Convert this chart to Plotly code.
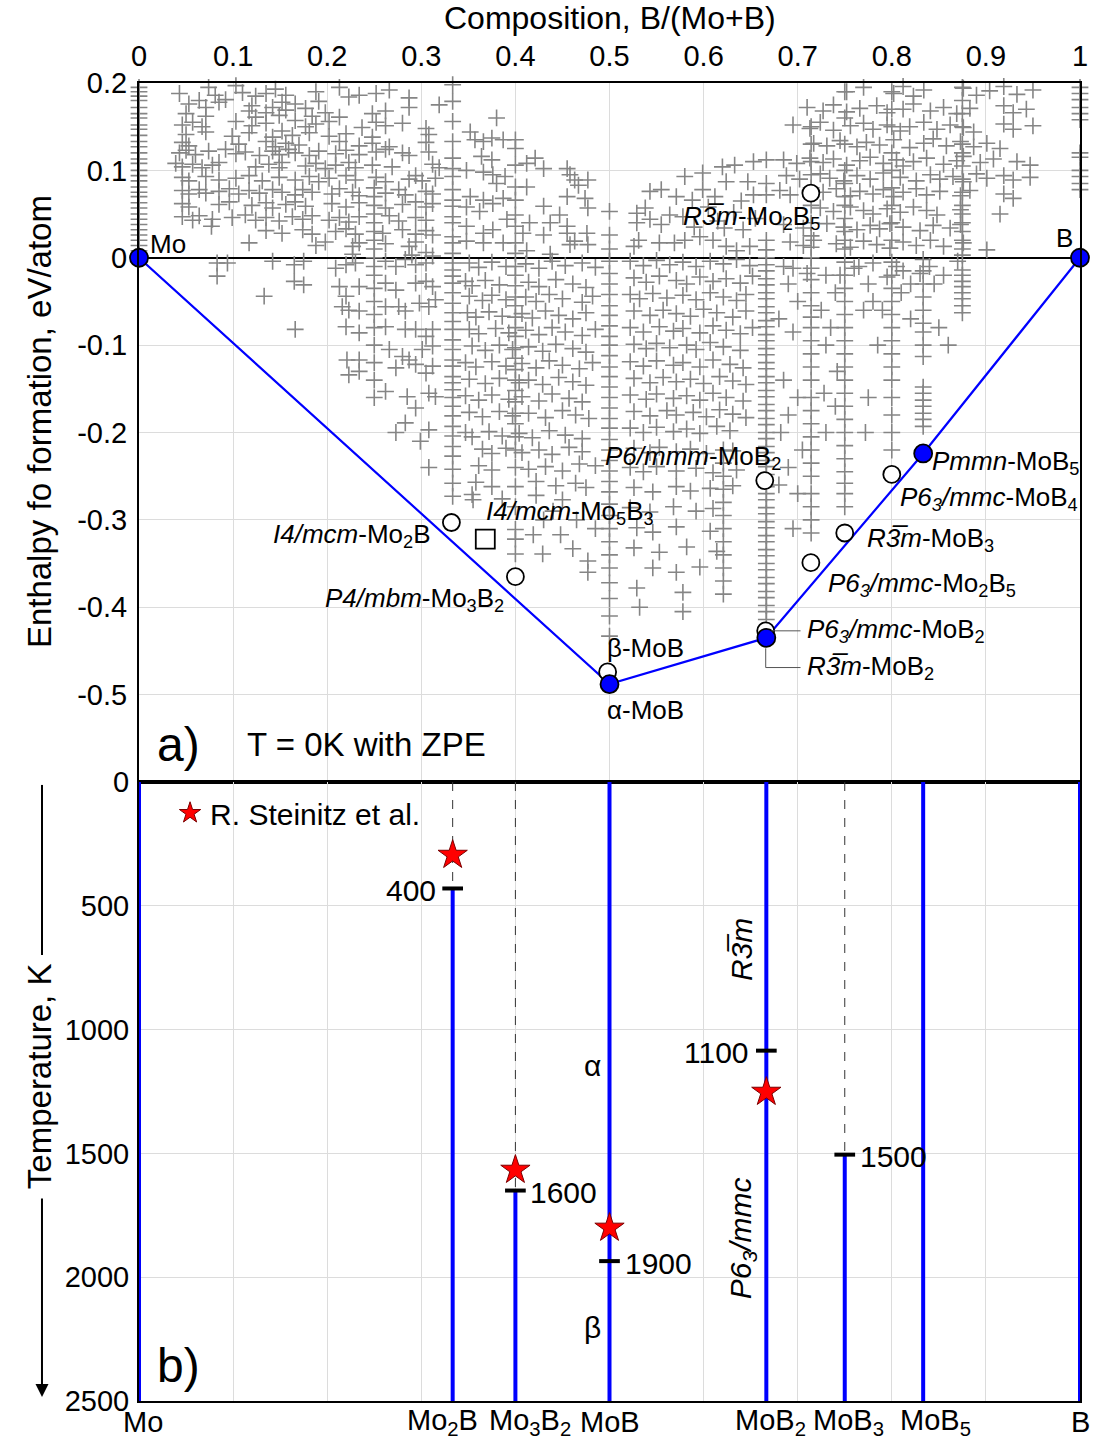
import plotly.graph_objects as go

FONT = "Arial, 'Liberation Sans', sans-serif"
GRAY = "#858585"
BLUE = "#0000ff"

# ---------------- axis ticks ----------------
comp_tickvals = [0, 0.1, 0.2, 0.3, 0.4, 0.5, 0.6, 0.7, 0.8, 0.9, 1.0]
comp_ticktext = ["0", "0.1", "0.2", "0.3", "0.4", "0.5", "0.6", "0.7", "0.8", "0.9", "1"]
enth_tickvals = [0.2, 0.1, 0, -0.1, -0.2, -0.3, -0.4, -0.5]
enth_ticktext = ["0.2", "0.1", "0", "-0.1", "-0.2", "-0.3", "-0.4", "-0.5"]
temp_tickvals = [0, 500, 1000, 1500, 2000, 2500]
temp_ticktext = ["0", "500", "1000", "1500", "2000", "2500"]

# ---------------- panel a: convex hull ----------------
hull_x = [0, 0.5, 2 / 3, 5 / 6, 1]
hull_y = [0, -0.488, -0.435, -0.224, 0]

# metastable structures (open circles)
meta_x = [0.332, 0.400, 0.498, 0.665, 0.666, 0.714, 0.750, 0.800, 0.714]
meta_y = [-0.303, -0.365, -0.474, -0.255, -0.427, -0.349, -0.315, -0.248, 0.074]
# I4/mcm-Mo5B3 (open square)
sq_x = [0.368]
sq_y = [-0.322]

# ---------------- panel a: random-search structures (grey crosses) ----------------
# vertical stacks at fixed compositions
stack_mo = [0.195, 0.19, 0.185, 0.18, 0.172, 0.165, 0.16, 0.152, 0.147, 0.14, 0.133, 0.127, 0.12,
            0.113, 0.108, 0.1, 0.094, 0.088, 0.081, 0.075, 0.07, 0.063, 0.057, 0.05, 0.044, 0.038,
            0.032, 0.026, 0.02, 0.014, 0.008]
stack_b = [0.195, 0.188, 0.181, 0.172, 0.165, 0.158, 0.12, 0.115, 0.1, 0.093, 0.085, 0.078]
stack_mo2b = [0.198, 0.179, 0.156, 0.133, 0.114, 0.102, 0.093, 0.078, 0.066, 0.059, 0.047, 0.04,
              0.024, 0.017, 0.005, -0.006, -0.014, -0.021, -0.029, -0.04, -0.052, -0.063, -0.073,
              -0.082, -0.094, -0.105, -0.117, -0.124, -0.136, -0.143, -0.151, -0.16, -0.17, -0.181,
              -0.193, -0.204, -0.216, -0.227, -0.242, -0.258, -0.273]
stack_mo3b2 = [0.135, 0.125, 0.106, 0.081, 0.066, 0.049, 0.036, 0.017, 0.005, -0.01, -0.02, -0.032,
               -0.045, -0.055, -0.068, -0.08, -0.09, -0.103, -0.115, -0.128, -0.14, -0.152, -0.165,
               -0.178, -0.19, -0.205, -0.22, -0.24, -0.262, -0.285, -0.311, -0.322, -0.339]
stack_mob = [0.053, 0.026, 0.01, -0.004, -0.018, -0.03, -0.042, -0.055, -0.066, -0.078, -0.09, -0.1,
             -0.112, -0.125, -0.136, -0.148, -0.16, -0.172, -0.184, -0.195, -0.208, -0.22, -0.232,
             -0.244, -0.256, -0.268, -0.282, -0.295, -0.31, -0.325, -0.34, -0.355, -0.372, -0.39,
             -0.41, -0.433]
stack_mob2 = [0.112, 0.085, 0.072, 0.02, 0.009, 0.0, -0.008, -0.015, -0.024, -0.031, -0.04, -0.047,
              -0.056, -0.063, -0.072, -0.079, -0.088, -0.095, -0.104, -0.111, -0.12, -0.127, -0.136,
              -0.143, -0.152, -0.159, -0.168, -0.175, -0.184, -0.191, -0.2, -0.207, -0.216, -0.223,
              -0.232, -0.239, -0.248, -0.262, -0.27, -0.277, -0.286, -0.293, -0.302, -0.309, -0.318,
              -0.325, -0.334, -0.341, -0.35, -0.357, -0.366, -0.373, -0.382, -0.389, -0.398, -0.405,
              -0.414]
stack_mo2b5 = [0.15, 0.13, 0.11, 0.095, 0.08, 0.06, 0.04, 0.025, 0.012, 0.0, -0.012, -0.025, -0.04,
               -0.055, -0.068, -0.08, -0.095, -0.11, -0.125, -0.14, -0.16, -0.175, -0.19, -0.205,
               -0.22, -0.235, -0.25, -0.27, -0.285, -0.3, -0.315]
stack_mob3 = [0.19, 0.16, 0.13, 0.1, 0.085, 0.07, 0.06, 0.045, 0.03, 0.02, 0.01, -0.005, -0.02, -0.035,
              -0.05, -0.065, -0.08, -0.095, -0.11, -0.125, -0.14, -0.155, -0.17, -0.185, -0.2,
              -0.215, -0.23, -0.245, -0.258, -0.27, -0.285]
stack_mob4 = [0.19, 0.17, 0.15, 0.12, 0.1, 0.08, 0.06, 0.04, 0.02, -0.005, -0.02, -0.035, -0.05,
              -0.065, -0.08, -0.095, -0.11, -0.125, -0.14, -0.16, -0.18, -0.2, -0.22]
stack_mob5 = [-0.002, -0.015, -0.03, -0.045, -0.06, -0.075, -0.085, -0.1, -0.113, -0.148, -0.155,
              -0.163, -0.17, -0.178, -0.185, -0.193]
stack_mob7 = [0.195, 0.18, 0.165, 0.15, 0.13, 0.12, 0.105, 0.09, 0.075, 0.06, 0.05, 0.04, 0.03, 0.02,
              0.01, 0.003, -0.014, -0.02, -0.027, -0.033, -0.04, -0.047, -0.055, -0.063]
stack_q25 = [0.08, 0.07, 0.06, 0.05, 0.04, 0.03, 0.02, 0.01, 0.0, -0.01, -0.02, -0.035, -0.05, -0.065,
             -0.08, -0.1, -0.12, -0.14, -0.16]
stack_q62 = [-0.22, -0.235, -0.25, -0.265, -0.28, -0.295, -0.31, -0.325, -0.34, -0.355, -0.37, -0.385]

stack_comp = [0, 1, 1 / 3, 0.4, 0.5, 2 / 3, 5 / 7, 0.75, 0.8, 5 / 6, 0.875, 0.25, 0.621]
stack_vals = [stack_mo, stack_b, stack_mo2b, stack_mo3b2, stack_mob, stack_mob2, stack_mo2b5,
              stack_mob3, stack_mob4, stack_mob5, stack_mob7, stack_q25, stack_q62]

# scattered structures, Mo-rich side, above the tie line at 0
pts_left_up = [
    (0.043, 0.188), (0.074, 0.195), (0.081, 0.186), (0.103, 0.197), (0.110, 0.189), (0.124, 0.185),
    (0.135, 0.188), (0.145, 0.193), (0.156, 0.186), (0.188, 0.19), (0.213, 0.195), (0.223, 0.184),
    (0.234, 0.186), (0.252, 0.188), (0.266, 0.192), (0.287, 0.183),
    (0.053, 0.176), (0.064, 0.18), (0.071, 0.172), (0.085, 0.178), (0.092, 0.181), (0.120, 0.174),
    (0.142, 0.172), (0.152, 0.178), (0.166, 0.176), (0.177, 0.171), (0.191, 0.179), (0.287, 0.172),
    (0.319, 0.175),
    (0.050, 0.165), (0.071, 0.162), (0.117, 0.168), (0.124, 0.161), (0.135, 0.166), (0.149, 0.163),
    (0.156, 0.169), (0.184, 0.162), (0.198, 0.166), (0.213, 0.161), (0.248, 0.165), (0.262, 0.168),
    (0.046, 0.152), (0.057, 0.155), (0.067, 0.15), (0.103, 0.156), (0.120, 0.151), (0.135, 0.154),
    (0.166, 0.157), (0.177, 0.15), (0.188, 0.153), (0.202, 0.156), (0.237, 0.149), (0.252, 0.155),
    (0.262, 0.151), (0.280, 0.154), (0.305, 0.148),
    (0.050, 0.141), (0.071, 0.144), (0.099, 0.139), (0.117, 0.143), (0.142, 0.138), (0.152, 0.145),
    (0.163, 0.14), (0.181, 0.143), (0.202, 0.139), (0.220, 0.142), (0.248, 0.138), (0.308, 0.141),
    (0.046, 0.132), (0.053, 0.128), (0.106, 0.13), (0.135, 0.133), (0.145, 0.127), (0.156, 0.131),
    (0.170, 0.129), (0.213, 0.133), (0.234, 0.128), (0.248, 0.131), (0.266, 0.127), (0.305, 0.132),
    (0.043, 0.12), (0.050, 0.123), (0.060, 0.118), (0.074, 0.122), (0.092, 0.124), (0.103, 0.119),
    (0.113, 0.121), (0.128, 0.117), (0.142, 0.122), (0.149, 0.118), (0.159, 0.124), (0.166, 0.12),
    (0.181, 0.117), (0.191, 0.122), (0.209, 0.119), (0.220, 0.123), (0.234, 0.118), (0.252, 0.121),
    (0.262, 0.124), (0.280, 0.12), (0.287, 0.117), (0.308, 0.121),
    (0.039, 0.108), (0.046, 0.104), (0.057, 0.107), (0.067, 0.103), (0.078, 0.106), (0.085, 0.109),
    (0.124, 0.104), (0.138, 0.107), (0.149, 0.103), (0.152, 0.109), (0.177, 0.105), (0.188, 0.108),
    (0.198, 0.102), (0.209, 0.106), (0.223, 0.109), (0.230, 0.103), (0.248, 0.106), (0.269, 0.104),
    (0.312, 0.107), (0.319, 0.103),
    (0.046, 0.092), (0.053, 0.088), (0.071, 0.093), (0.085, 0.089), (0.103, 0.091), (0.117, 0.094),
    (0.131, 0.088), (0.149, 0.092), (0.166, 0.089), (0.181, 0.093), (0.191, 0.087), (0.202, 0.091),
    (0.220, 0.094), (0.230, 0.089), (0.252, 0.092), (0.262, 0.087), (0.287, 0.09), (0.294, 0.094),
    (0.301, 0.088), (0.315, 0.091),
    (0.046, 0.077), (0.053, 0.073), (0.064, 0.078), (0.071, 0.074), (0.085, 0.076), (0.096, 0.079),
    (0.106, 0.073), (0.117, 0.077), (0.128, 0.074), (0.142, 0.078), (0.152, 0.075), (0.166, 0.072),
    (0.174, 0.078), (0.184, 0.075), (0.205, 0.073), (0.213, 0.079), (0.227, 0.075), (0.234, 0.071),
    (0.262, 0.074), (0.276, 0.078), (0.283, 0.072), (0.305, 0.076), (0.312, 0.073),
    (0.046, 0.062), (0.053, 0.058), (0.085, 0.061), (0.096, 0.064), (0.120, 0.06), (0.135, 0.063),
    (0.142, 0.057), (0.156, 0.061), (0.166, 0.064), (0.177, 0.059), (0.205, 0.062), (0.220, 0.058),
    (0.234, 0.063), (0.262, 0.057), (0.280, 0.061), (0.294, 0.064), (0.305, 0.058), (0.312, 0.062),
    (0.046, 0.047), (0.057, 0.043), (0.064, 0.048), (0.078, 0.044), (0.099, 0.046), (0.113, 0.049),
    (0.124, 0.043), (0.135, 0.046), (0.149, 0.042), (0.163, 0.047), (0.174, 0.044), (0.184, 0.048),
    (0.202, 0.043), (0.213, 0.046), (0.223, 0.041), (0.234, 0.047), (0.266, 0.048), (0.276, 0.042),
    (0.294, 0.046), (0.305, 0.043),
    (0.077, 0.036), (0.135, 0.031), (0.152, 0.028), (0.174, 0.032), (0.184, 0.027), (0.209, 0.03),
    (0.220, 0.033), (0.230, 0.027), (0.259, 0.028), (0.280, 0.032), (0.294, 0.027), (0.305, 0.031),
    (0.312, 0.026),
    (0.117, 0.017), (0.188, 0.014), (0.198, 0.018), (0.227, 0.013), (0.234, 0.017), (0.262, 0.016),
    (0.287, 0.013), (0.294, 0.018), (0.227, 0.004), (0.290, 0.003), (0.305, 0.006),
]

# scattered structures, middle compositions above 0
pts_mid_up = [
    (0.380, 0.160), (0.352, 0.144), (0.357, 0.135), (0.366, 0.133), (0.375, 0.137), (0.387, 0.135),
    (0.412, 0.108), (0.364, 0.116), (0.375, 0.112), (0.421, 0.114), (0.430, 0.102), (0.455, 0.102),
    (0.348, 0.100), (0.366, 0.098), (0.376, 0.095), (0.389, 0.093), (0.458, 0.095), (0.463, 0.089),
    (0.477, 0.089), (0.412, 0.081), (0.380, 0.085), (0.467, 0.083), (0.352, 0.070), (0.366, 0.066),
    (0.376, 0.062), (0.387, 0.068), (0.430, 0.059), (0.455, 0.070), (0.474, 0.068), (0.477, 0.057),
    (0.447, 0.049), (0.348, 0.058), (0.362, 0.053), (0.391, 0.044), (0.415, 0.040), (0.437, 0.040),
    (0.455, 0.036), (0.348, 0.036), (0.366, 0.028), (0.376, 0.032), (0.408, 0.028), (0.430, 0.026),
    (0.455, 0.028), (0.463, 0.019), (0.476, 0.028), (0.348, 0.019), (0.366, 0.017), (0.387, 0.017),
    (0.412, 0.008), (0.437, 0.004), (0.458, 0.015), (0.477, 0.015),
    (0.580, 0.093), (0.599, 0.097), (0.620, 0.104), (0.633, 0.106), (0.653, 0.110), (0.543, 0.076),
    (0.555, 0.078), (0.571, 0.070), (0.599, 0.078), (0.624, 0.087), (0.647, 0.087), (0.653, 0.072),
    (0.538, 0.057), (0.529, 0.051), (0.529, 0.040), (0.543, 0.044), (0.555, 0.038), (0.564, 0.049),
    (0.578, 0.047), (0.531, 0.020), (0.526, 0.013), (0.553, 0.017), (0.569, 0.017), (0.580, 0.020),
    (0.596, 0.024), (0.610, 0.020), (0.624, 0.013), (0.635, 0.008), (0.649, 0.013),
    (0.605, 0.058), (0.615, 0.042), (0.632, 0.052), (0.642, 0.032), (0.622, 0.034), (0.588, 0.066),
    (0.590, 0.035), (0.612, 0.070), (0.640, 0.065), (0.655, 0.045),
]

# scattered structures, B-rich side above 0
pts_right_up = [
    (0.752, 0.19), (0.770, 0.195), (0.802, 0.188), (0.812, 0.196), (0.823, 0.185), (0.834, 0.192),
    (0.876, 0.194), (0.890, 0.186), (0.904, 0.191), (0.919, 0.196), (0.933, 0.187), (0.950, 0.192),
    (0.710, 0.172), (0.727, 0.168), (0.738, 0.175), (0.752, 0.167), (0.766, 0.171), (0.784, 0.174),
    (0.795, 0.166), (0.812, 0.17), (0.823, 0.176), (0.841, 0.168), (0.855, 0.172), (0.869, 0.165),
    (0.883, 0.171), (0.919, 0.174), (0.929, 0.166), (0.943, 0.17),
    (0.695, 0.152), (0.713, 0.148), (0.724, 0.155), (0.738, 0.146), (0.756, 0.151), (0.770, 0.154),
    (0.780, 0.147), (0.795, 0.152), (0.809, 0.145), (0.819, 0.15), (0.834, 0.155), (0.848, 0.147),
    (0.862, 0.152), (0.876, 0.149), (0.887, 0.144), (0.919, 0.153), (0.929, 0.147), (0.950, 0.151),
    (0.717, 0.131), (0.731, 0.128), (0.745, 0.134), (0.763, 0.127), (0.773, 0.132), (0.787, 0.129),
    (0.802, 0.135), (0.819, 0.126), (0.834, 0.131), (0.844, 0.136), (0.858, 0.128), (0.873, 0.133),
    (0.887, 0.127), (0.901, 0.131), (0.915, 0.125),
    (0.685, 0.112), (0.699, 0.108), (0.713, 0.114), (0.727, 0.109), (0.738, 0.113), (0.752, 0.106),
    (0.766, 0.111), (0.777, 0.115), (0.791, 0.108), (0.805, 0.112), (0.812, 0.105), (0.823, 0.11),
    (0.837, 0.114), (0.855, 0.107), (0.869, 0.111), (0.876, 0.116), (0.894, 0.109), (0.908, 0.113),
    (0.933, 0.11), (0.947, 0.106),
    (0.688, 0.094), (0.702, 0.09), (0.724, 0.096), (0.734, 0.091), (0.749, 0.088), (0.763, 0.094),
    (0.777, 0.09), (0.791, 0.097), (0.809, 0.092), (0.826, 0.088), (0.841, 0.095), (0.851, 0.09),
    (0.865, 0.093), (0.876, 0.087), (0.890, 0.096), (0.901, 0.091), (0.919, 0.094), (0.929, 0.089),
    (0.947, 0.092),
    (0.681, 0.077), (0.692, 0.072), (0.727, 0.075), (0.741, 0.079), (0.756, 0.071), (0.766, 0.076),
    (0.780, 0.073), (0.791, 0.078), (0.802, 0.07), (0.812, 0.075), (0.826, 0.079), (0.837, 0.072),
    (0.851, 0.076), (0.873, 0.071), (0.883, 0.077), (0.919, 0.073), (0.929, 0.068),
    (0.724, 0.057), (0.738, 0.053), (0.756, 0.058), (0.770, 0.054), (0.780, 0.05), (0.795, 0.056),
    (0.809, 0.052), (0.823, 0.058), (0.837, 0.054), (0.848, 0.049), (0.873, 0.055), (0.915, 0.05),
    (0.685, 0.038), (0.706, 0.034), (0.731, 0.039), (0.749, 0.035), (0.763, 0.032), (0.777, 0.037),
    (0.787, 0.033), (0.798, 0.039), (0.812, 0.035), (0.830, 0.031), (0.844, 0.037), (0.862, 0.034),
    (0.873, 0.038),
    (0.692, 0.018), (0.706, 0.014), (0.717, 0.02), (0.741, 0.016), (0.756, 0.012), (0.770, 0.019),
    (0.784, 0.015), (0.798, 0.011), (0.812, 0.018), (0.826, 0.014), (0.841, 0.02), (0.855, 0.013),
    (0.876, 0.017), (0.901, 0.009),
]

# scattered structures, Mo-rich side below 0
pts_left_low = [
    (0.083, -0.006), (0.094, -0.006), (0.083, -0.021), (0.142, -0.004), (0.165, -0.008),
    (0.175, -0.004), (0.165, -0.027), (0.175, -0.031), (0.133, -0.044), (0.166, -0.082),
    (0.209, -0.012), (0.220, -0.008), (0.230, -0.006), (0.262, -0.004), (0.273, -0.010),
    (0.283, -0.002), (0.294, -0.008), (0.305, -0.006), (0.312, 0.002),
    (0.213, -0.033), (0.220, -0.044), (0.234, -0.033), (0.262, -0.029), (0.273, -0.037),
    (0.294, -0.029), (0.305, -0.027), (0.312, -0.033),
    (0.216, -0.056), (0.223, -0.06), (0.234, -0.061), (0.262, -0.056), (0.276, -0.056),
    (0.283, -0.061), (0.298, -0.052), (0.308, -0.056), (0.315, -0.048),
    (0.220, -0.079), (0.234, -0.086), (0.262, -0.079), (0.283, -0.082), (0.294, -0.082),
    (0.305, -0.09), (0.312, -0.082),
    (0.266, -0.105), (0.280, -0.113), (0.287, -0.117), (0.301, -0.105), (0.312, -0.101),
    (0.221, -0.117), (0.234, -0.117), (0.223, -0.134), (0.234, -0.130), (0.273, -0.126),
    (0.294, -0.122), (0.305, -0.132), (0.312, -0.124),
    (0.262, -0.153), (0.285, -0.159), (0.294, -0.172), (0.308, -0.155), (0.315, -0.159),
    (0.273, -0.2), (0.283, -0.189), (0.299, -0.21), (0.308, -0.197), (0.308, -0.24),
]

# scattered structures between Mo2B and MoB below 0
pts_mid_low = [
    (0.351, -0.006), (0.361, -0.011), (0.375, -0.005), (0.390, -0.01), (0.411, -0.007),
    (0.425, -0.012), (0.439, -0.004), (0.453, -0.009), (0.471, -0.006), (0.485, -0.011),
    (0.347, -0.027), (0.354, -0.032), (0.368, -0.026), (0.383, -0.031), (0.414, -0.028),
    (0.425, -0.033), (0.443, -0.025), (0.461, -0.03), (0.475, -0.034),
    (0.351, -0.044), (0.365, -0.049), (0.375, -0.043), (0.390, -0.048), (0.411, -0.045),
    (0.422, -0.05), (0.436, -0.042), (0.450, -0.047), (0.471, -0.051), (0.482, -0.044),
    (0.349, -0.063), (0.358, -0.068), (0.372, -0.062), (0.386, -0.067), (0.407, -0.064),
    (0.418, -0.069), (0.432, -0.061), (0.446, -0.066), (0.461, -0.07), (0.475, -0.063),
    (0.351, -0.082), (0.361, -0.087), (0.379, -0.081), (0.393, -0.086), (0.411, -0.083),
    (0.425, -0.088), (0.439, -0.08), (0.453, -0.085), (0.471, -0.089), (0.485, -0.082),
    (0.354, -0.101), (0.368, -0.106), (0.383, -0.1), (0.397, -0.105), (0.414, -0.102),
    (0.429, -0.107), (0.443, -0.099), (0.461, -0.104), (0.475, -0.108),
    (0.347, -0.12), (0.358, -0.125), (0.375, -0.119), (0.390, -0.124), (0.407, -0.121),
    (0.422, -0.126), (0.436, -0.118), (0.450, -0.123), (0.468, -0.127), (0.482, -0.12),
    (0.351, -0.139), (0.368, -0.144), (0.383, -0.138), (0.404, -0.143), (0.414, -0.14),
    (0.429, -0.145), (0.446, -0.137), (0.461, -0.142), (0.475, -0.146),
    (0.347, -0.158), (0.361, -0.163), (0.375, -0.157), (0.393, -0.162), (0.407, -0.159),
    (0.425, -0.164), (0.439, -0.156), (0.457, -0.161), (0.471, -0.165),
    (0.351, -0.177), (0.365, -0.182), (0.383, -0.176), (0.397, -0.181), (0.414, -0.178),
    (0.432, -0.183), (0.450, -0.175), (0.464, -0.18), (0.478, -0.184),
    (0.347, -0.2), (0.354, -0.205), (0.372, -0.199), (0.386, -0.204), (0.404, -0.201),
    (0.418, -0.206), (0.436, -0.198), (0.453, -0.203), (0.471, -0.207),
    (0.365, -0.219), (0.375, -0.224), (0.390, -0.218), (0.407, -0.223), (0.425, -0.22),
    (0.439, -0.225), (0.457, -0.217), (0.471, -0.222),
    (0.361, -0.238), (0.375, -0.243), (0.414, -0.242), (0.432, -0.239), (0.450, -0.244),
    (0.468, -0.236), (0.358, -0.257), (0.375, -0.262), (0.422, -0.256), (0.443, -0.261),
    (0.464, -0.258), (0.475, -0.263), (0.354, -0.271), (0.386, -0.276), (0.422, -0.272),
    (0.450, -0.277), (0.355, -0.277), (0.419, -0.317), (0.429, -0.339), (0.448, -0.317),
    (0.461, -0.333), (0.477, -0.347), (0.477, -0.36), (0.485, -0.238), (0.440, -0.29),
    (0.465, -0.3), (0.485, -0.31), (0.430, -0.3),
]

# scattered structures between MoB and MoB2 below 0
pts_center_low = [
    (0.522, -0.004), (0.536, -0.009), (0.550, -0.003), (0.564, -0.008), (0.578, -0.005),
    (0.592, -0.01), (0.607, -0.004), (0.621, -0.007), (0.635, -0.002), (0.649, -0.009),
    (0.526, -0.023), (0.539, -0.028), (0.553, -0.021), (0.571, -0.026), (0.582, -0.03),
    (0.596, -0.022), (0.610, -0.027), (0.624, -0.024), (0.639, -0.029), (0.652, -0.021),
    (0.522, -0.042), (0.532, -0.047), (0.546, -0.041), (0.561, -0.046), (0.578, -0.043),
    (0.592, -0.048), (0.607, -0.04), (0.621, -0.045), (0.635, -0.049), (0.645, -0.042),
    (0.526, -0.061), (0.543, -0.066), (0.557, -0.06), (0.571, -0.064), (0.586, -0.067),
    (0.600, -0.059), (0.614, -0.063), (0.631, -0.068), (0.645, -0.061),
    (0.522, -0.08), (0.536, -0.085), (0.553, -0.079), (0.568, -0.084), (0.578, -0.081),
    (0.596, -0.086), (0.610, -0.078), (0.624, -0.083), (0.639, -0.087), (0.652, -0.08),
    (0.526, -0.099), (0.539, -0.104), (0.550, -0.098), (0.564, -0.103), (0.582, -0.1),
    (0.592, -0.105), (0.607, -0.097), (0.621, -0.102), (0.639, -0.106),
    (0.522, -0.119), (0.536, -0.124), (0.550, -0.118), (0.568, -0.123), (0.578, -0.12),
    (0.596, -0.125), (0.610, -0.117), (0.628, -0.122), (0.642, -0.126),
    (0.526, -0.138), (0.543, -0.143), (0.557, -0.137), (0.571, -0.142), (0.586, -0.139),
    (0.600, -0.144), (0.617, -0.136), (0.631, -0.141), (0.645, -0.145),
    (0.522, -0.157), (0.539, -0.162), (0.550, -0.156), (0.568, -0.161), (0.582, -0.158),
    (0.596, -0.163), (0.610, -0.155), (0.624, -0.16), (0.642, -0.164),
    (0.526, -0.176), (0.543, -0.181), (0.561, -0.175), (0.571, -0.18), (0.589, -0.177),
    (0.603, -0.182), (0.617, -0.174), (0.631, -0.179), (0.645, -0.183),
    (0.522, -0.195), (0.536, -0.2), (0.550, -0.194), (0.568, -0.199), (0.582, -0.196),
    (0.596, -0.201), (0.614, -0.193), (0.628, -0.198),
    (0.526, -0.218), (0.543, -0.223), (0.553, -0.217), (0.571, -0.222), (0.586, -0.219),
    (0.603, -0.224), (0.631, -0.221),
    (0.522, -0.24), (0.536, -0.245), (0.550, -0.239), (0.571, -0.244), (0.592, -0.241),
    (0.610, -0.246), (0.635, -0.243),
    (0.526, -0.263), (0.546, -0.268), (0.571, -0.262), (0.586, -0.267), (0.607, -0.264),
    (0.631, -0.261), (0.522, -0.286), (0.543, -0.291), (0.568, -0.285), (0.592, -0.29),
    (0.610, -0.287), (0.529, -0.309), (0.546, -0.314), (0.571, -0.308), (0.607, -0.313),
    (0.526, -0.332), (0.553, -0.337), (0.582, -0.331), (0.614, -0.336),
    (0.546, -0.355), (0.571, -0.36), (0.596, -0.354), (0.529, -0.378), (0.578, -0.383),
    (0.532, -0.4), (0.578, -0.405),
]

# scattered structures on the B-rich side below 0
pts_right_low = [
    (0.685, -0.01), (0.690, -0.03), (0.700, -0.05), (0.680, -0.07), (0.695, -0.085),
    (0.685, -0.14), (0.700, -0.16), (0.690, -0.18), (0.682, -0.2), (0.705, -0.22),
    (0.690, -0.24), (0.680, -0.26), (0.700, -0.27), (0.695, -0.31), (0.730, -0.02),
    (0.740, -0.04), (0.725, -0.06), (0.735, -0.08), (0.730, -0.1), (0.742, -0.13),
    (0.728, -0.155), (0.740, -0.17), (0.730, -0.2), (0.765, -0.01), (0.775, -0.03),
    (0.780, -0.05), (0.770, -0.06), (0.785, -0.1), (0.775, -0.16), (0.772, -0.2),
    (0.790, -0.06), (0.810, -0.04), (0.820, -0.03), (0.812, -0.015), (0.840, -0.01),
    (0.845, -0.03), (0.850, -0.08), (0.860, -0.1), (0.820, -0.07), (0.855, -0.02),
    (0.695, -0.012), (0.710, -0.018), (0.745, -0.02), (0.760, -0.012), (0.780, -0.006),
    (0.795, -0.022), (0.805, -0.01), (0.830, -0.018), (0.870, -0.004),
]

# ---------------- panel b: stability vs temperature ----------------
phase_x = [0, 1 / 3, 0.4, 0.5, 2 / 3, 0.75, 5 / 6, 1]
phase_names = ["Mo", "Mo<sub>2</sub>B", "Mo<sub>3</sub>B<sub>2</sub>", "MoB", "MoB<sub>2</sub>",
               "MoB<sub>3</sub>", "MoB<sub>5</sub>", "B"]
phase_T_from = [0, 430, 1650, 0, 0, 1505, 0, 0]   # temperature from which the phase is stable

trans_x = [1 / 3, 0.4, 0.5, 2 / 3, 0.75]
trans_T = [430, 1650, 1935, 1085, 1505]
trans_lbl = ["400", "1600", "1900", "1100", "1500"]

steinitz_x = [1 / 3, 0.4, 0.5, 2 / 3]
steinitz_T = [295, 1567, 1801, 1252]

T_MAX = 2500

# ====================================================================
fig = go.Figure()

# grey crosses
sx, sy = [], []
for c, vals in zip(stack_comp, stack_vals):
    sx += [c] * len(vals)
    sy += vals
for group in (pts_left_up, pts_mid_up, pts_right_up, pts_left_low, pts_mid_low,
              pts_center_low, pts_right_low):
    sx += [p[0] for p in group]
    sy += [p[1] for p in group]

fig.add_trace(go.Scatter(
    x=sx, y=sy, mode="markers", xaxis="x", yaxis="y", hoverinfo="skip", showlegend=False,
    cliponaxis=False,
    marker=dict(symbol="cross-thin", size=12, color=GRAY, line=dict(width=1.6, color=GRAY))))

# convex hull line
fig.add_trace(go.Scatter(x=hull_x, y=hull_y, mode="lines", xaxis="x", yaxis="y",
                         line=dict(color=BLUE, width=2.2), hoverinfo="skip", showlegend=False))

# metastable structures
fig.add_trace(go.Scatter(
    x=meta_x, y=meta_y, mode="markers", xaxis="x", yaxis="y", showlegend=False, cliponaxis=False,
    marker=dict(symbol="circle", size=17, color="white", line=dict(width=1.8, color="black"))))
fig.add_trace(go.Scatter(
    x=sq_x, y=sq_y, mode="markers", xaxis="x", yaxis="y", showlegend=False,
    marker=dict(symbol="square", size=19, color="white", line=dict(width=1.8, color="black"))))

# stable structures
fig.add_trace(go.Scatter(
    x=hull_x, y=hull_y, mode="markers", xaxis="x", yaxis="y", showlegend=False, cliponaxis=False,
    marker=dict(symbol="circle", size=18, color=BLUE, line=dict(width=1.8, color="black"))))

# panel b: dashed (metastable range) and solid (stable range) lines
dx, dy, bx, by = [], [], [], []
for x, t0 in zip(phase_x, phase_T_from):
    bx += [x, x, None]
    by += [t0, T_MAX, None]
    if t0 > 0:
        dx += [x, x, None]
        dy += [0, t0, None]
fig.add_trace(go.Scatter(x=dx, y=dy, mode="lines", xaxis="x2", yaxis="y2", showlegend=False,
                         line=dict(color="#333333", width=1, dash="dash"), hoverinfo="skip"))
fig.add_trace(go.Scatter(x=bx, y=by, mode="lines", xaxis="x2", yaxis="y2", showlegend=False,
                         line=dict(color=BLUE, width=4), hoverinfo="skip"))

# transition tick marks
tx, ty = [], []
for x, t in zip(trans_x, trans_T):
    tx += [x - 0.011, x + 0.011, None]
    ty += [t, t, None]
fig.add_trace(go.Scatter(x=tx, y=ty, mode="lines", xaxis="x2", yaxis="y2", showlegend=False,
                         line=dict(color="black", width=4), hoverinfo="skip"))

# experimental data
fig.add_trace(go.Scatter(
    x=steinitz_x, y=steinitz_T, mode="markers", xaxis="x2", yaxis="y2",
    name="R. Steinitz et al.", showlegend=True, cliponaxis=False,
    marker=dict(symbol="star", size=22, color="#ff0000", line=dict(width=1, color="#7a0000"))))

# ---------------- annotations ----------------
ann = []
top_labels = [
    ("Mo", 0.0096, 0.016, "left"),
    ("B", 0.995, 0.023, "right"),
    ("<i>R3\u0305m</i>-Mo<sub>2</sub>B<sub>5</sub>", 0.726, 0.046, "right"),
    ("<i>P6/mmm</i>-MoB<sub>2</sub>", 0.493, -0.229, "left"),
    ("<i>I4/mcm</i>-Mo<sub>5</sub>B<sub>3</sub>", 0.367, -0.291, "left"),
    ("<i>I4/mcm</i>-Mo<sub>2</sub>B", 0.311, -0.318, "right"),
    ("<i>P4/mbm</i>-Mo<sub>3</sub>B<sub>2</sub>", 0.390, -0.391, "right"),
    ("\u03b2-MoB", 0.495, -0.447, "left"),
    ("\u03b1-MoB", 0.495, -0.518, "left"),
    ("<i>Pmmn</i>-MoB<sub>5</sub>", 0.841, -0.234, "left"),
    ("<i>P6<sub>3</sub>/mmc</i>-MoB<sub>4</sub>", 0.807, -0.275, "left"),
    ("<i>R3\u0305m</i>-MoB<sub>3</sub>", 0.772, -0.322, "left"),
    ("<i>P6<sub>3</sub>/mmc</i>-Mo<sub>2</sub>B<sub>5</sub>", 0.730, -0.374, "left"),
    ("<i>P6<sub>3</sub>/mmc</i>-MoB<sub>2</sub>", 0.708, -0.427, "left"),
    ("<i>R3\u0305m</i>-MoB<sub>2</sub>", 0.708, -0.469, "left"),
]
for txt, x, y, anc in top_labels:
    ann.append(dict(text=txt, x=x, y=y, xref="x", yref="y", xanchor=anc, yanchor="middle",
                    showarrow=False, font=dict(size=26, color="black", family=FONT)))

ann.append(dict(text="a)", x=0.017, y=-0.557, xref="x", yref="y", xanchor="left",
                yanchor="middle", showarrow=False, font=dict(size=48, family=FONT, color="black")))
ann.append(dict(text="T = 0K with ZPE", x=0.113, y=-0.557, xref="x", yref="y", xanchor="left",
                yanchor="middle", showarrow=False, font=dict(size=33, family=FONT, color="black")))
ann.append(dict(text="b)", x=0.017, y=2355, xref="x2", yref="y2", xanchor="left",
                yanchor="middle", showarrow=False, font=dict(size=48, family=FONT, color="black")))

# transition labels
for x, t, lbl, side in zip(trans_x, trans_T, trans_lbl, ["right", "left", "left", "right", "left"]):
    ann.append(dict(text=lbl, x=x, y=t, xref="x2", yref="y2",
                    xanchor="right" if side == "right" else "left",
                    xshift=-15 if side == "right" else 13, yshift=-2, yanchor="middle",
                    showarrow=False, font=dict(size=30, family=FONT, color="black")))

ann.append(dict(text="\u03b1", x=0.482, y=1143, xref="x2", yref="y2", showarrow=False,
                xanchor="center", yanchor="middle", font=dict(size=30, family=FONT, color="black")))
ann.append(dict(text="\u03b2", x=0.482, y=2205, xref="x2", yref="y2", showarrow=False,
                xanchor="center", yanchor="middle", font=dict(size=30, family=FONT, color="black")))
ann.append(dict(text="<i>R3\u0305m</i>", x=0.641, y=678, xref="x2", yref="y2", showarrow=False,
                xanchor="center", yanchor="middle", textangle=-90,
                font=dict(size=30, family=FONT, color="black")))
ann.append(dict(text="<i>P6<sub>3</sub>/mmc</i>", x=0.641, y=1842, xref="x2", yref="y2",
                xanchor="center", yanchor="middle", showarrow=False, textangle=-90,
                font=dict(size=30, family=FONT, color="black")))

# bottom composition labels
for x, name, xs in zip(phase_x, phase_names, [4, -10, 15, 0, 4, 4, 12, 0]):
    ann.append(dict(text=name, x=x, y=0.0125, xref="x2", yref="paper", xshift=xs,
                    xanchor="center", yanchor="middle", showarrow=False,
                    font=dict(size=29, family=FONT, color="black")))

# axis titles
ann.append(dict(text="Composition, B/(Mo+B)", x=0.5, y=0.9872, xref="paper", yref="paper",
                xanchor="center", yanchor="middle", showarrow=False,
                font=dict(size=32, family=FONT, color="black")))
ann.append(dict(text="Enthalpy fo formation, eV/atom", x=-0.105, y=0.707, xref="paper",
                yref="paper", xanchor="center", yanchor="middle", showarrow=False, textangle=-90,
                font=dict(size=33, family=FONT, color="black")))
ann.append(dict(text="Temperature, K", x=-0.105, y=0.2528, xref="paper", yref="paper",
                xanchor="center", yanchor="middle", showarrow=False, textangle=-90,
                font=dict(size=33, family=FONT, color="black")))
# arrow below the temperature title
ann.append(dict(text="", x=-0.1031, y=0.0299, xref="paper", yref="paper", showarrow=True,
                ax=0, ay=-200, arrowhead=2, arrowsize=1.3, arrowwidth=2, arrowcolor="black"))

shapes = [
    dict(type="line", xref="paper", yref="paper", x0=-0.1031, x1=-0.1031, y0=0.4549, y1=0.3368,
         line=dict(color="black", width=2)),
    # leader lines for the MoB2 polymorph labels
    dict(type="line", xref="x", yref="y", x0=0.672, x1=0.703, y0=-0.427, y1=-0.427,
         line=dict(color="#555555", width=1)),
    dict(type="path", xref="x", yref="y", path="M 0.666,-0.447 L 0.666,-0.469 L 0.703,-0.469",
         line=dict(color="#555555", width=1)),
]

dom_top = [(1440 - 782) / 1440, (1440 - 83) / 1440]
dom_bot = [(1440 - 1401) / 1440, (1440 - 782) / 1440]
tickfont = dict(size=29, family=FONT, color="black")

fig.update_layout(
    width=1093, height=1440,
    margin=dict(l=139, r=13, t=0, b=0, autoexpand=False),
    paper_bgcolor="white", plot_bgcolor="white",
    font=dict(family=FONT, color="black"),
    xaxis=dict(domain=[0, 1], range=[0, 1], anchor="y", side="top", automargin=False,
               tickvals=comp_tickvals, ticktext=comp_ticktext, tickfont=tickfont,
               ticks="outside", ticklen=3, tickcolor="rgba(0,0,0,0)",
               showgrid=True, gridcolor="#dcdcdc", gridwidth=1, zeroline=False,
               showline=True, linecolor="black", linewidth=2, mirror=True),
    yaxis=dict(domain=dom_top, range=[-0.6, 0.2], anchor="x", automargin=False,
               tickvals=enth_tickvals, ticktext=enth_ticktext, tickfont=tickfont,
               ticks="outside", ticklen=4, tickcolor="rgba(0,0,0,0)",
               showgrid=True, gridcolor="#dcdcdc", gridwidth=1,
               zeroline=True, zerolinecolor="black", zerolinewidth=2,
               showline=True, linecolor="black", linewidth=2, mirror=True),
    xaxis2=dict(domain=[0, 1], range=[0, 1], anchor="y2", dtick=0.1, showticklabels=False,
                automargin=False,
                showgrid=True, gridcolor="#dcdcdc", gridwidth=1, zeroline=False,
                showline=True, linecolor="black", linewidth=2, mirror=True, layer="below traces"),
    yaxis2=dict(domain=dom_bot, range=[T_MAX, 0], anchor="x2", automargin=False,
                tickvals=temp_tickvals, ticktext=temp_ticktext, tickfont=tickfont,
                ticks="outside", ticklen=2, tickcolor="rgba(0,0,0,0)",
                showgrid=True, gridcolor="#dcdcdc", gridwidth=1, zeroline=False,
                showline=True, linecolor="black", linewidth=2, mirror=True, layer="below traces"),
    legend=dict(x=0.033, y=0.4535, xanchor="left", yanchor="top", bgcolor="rgba(0,0,0,0)",
                font=dict(size=30, family=FONT, color="black")),
    annotations=ann,
    shapes=shapes,
)

fig.write_html("out.html", config={"displayModeBar": False},
               post_script="document.body.style.margin='0px';")
